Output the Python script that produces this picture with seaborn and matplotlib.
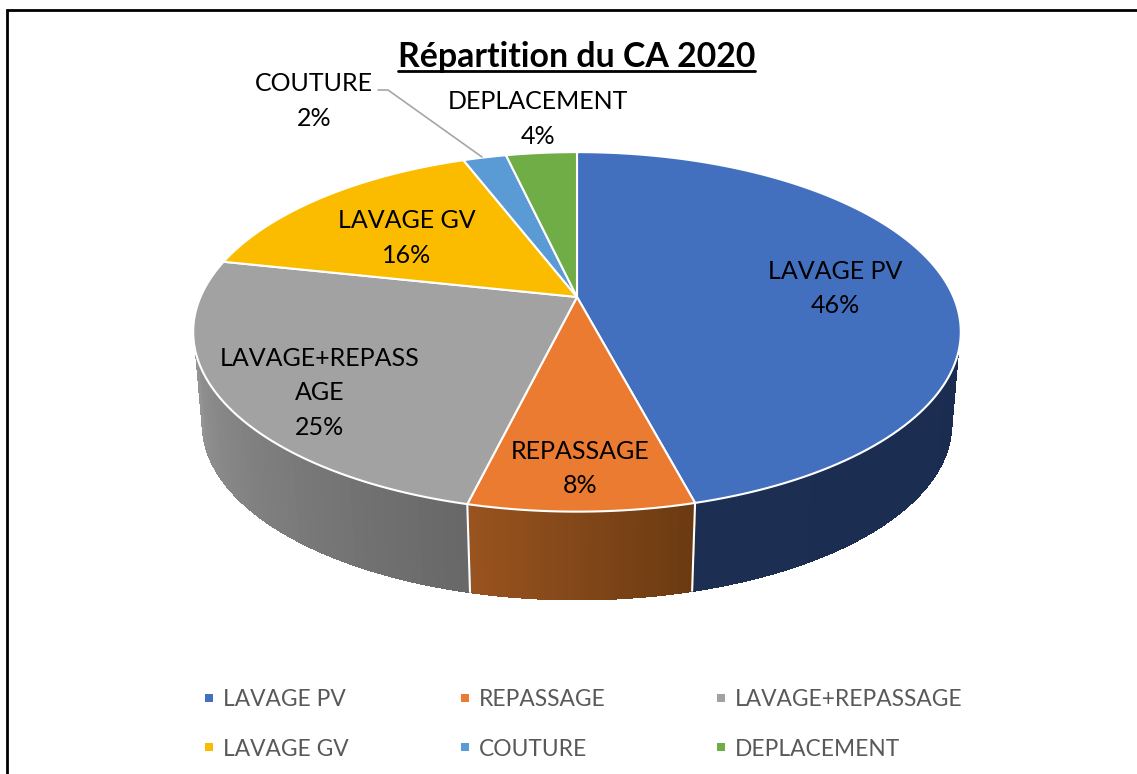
# Bibliotecas
import numpy as np
import matplotlib
matplotlib.use("Agg")
import matplotlib.pyplot as plt
import matplotlib.colors as mcolors
import seaborn as sns

sns.set_theme(style="white")
plt.rcParams["font.family"] = ["Lato", "DejaVu Sans"]

# Donnees
categories = ["LAVAGE PV", "REPASSAGE", "LAVAGE+REPASSAGE", "LAVAGE GV", "COUTURE", "DEPLACEMENT"]
valeurs = [45.9, 7.9, 24.6, 15.8, 2.2, 3.6]
titre = "Répartition du CA 2020"

# Couleurs
couleurs = ["#4270BF", "#EB7B30", "#A2A2A2", "#FBBC00", "#5B9BD5", "#70AD47"]
palette = sns.color_palette(couleurs)
flanc_gauche = ["#1C2F53", "#98531F", "#949494", "#7F5F00", "#2E75B6", "#385723"]
flanc_droit = ["#1A2C4F", "#6B3A12", "#686868", "#7F5F00", "#2E75B6", "#385723"]

# Geometrie du camembert en perspective (pixels de l'image)
CX, CY = 577, 297
CY_BAS = 390
B, A, C = 376.5, 173.0, 0.194
ECHELLE_BAS = 0.975
# limites visibles du flanc, en haut et en bas
HAUT_MIN, HAUT_MAX = np.radians(108.4), np.radians(251.6)
BAS_MIN, BAS_MAX = np.radians(101.2), np.radians(258.8)


def projete(theta, bas=False):
    u, v = np.sin(theta), np.cos(theta)
    d = 1 + C * v
    x, y = B * u / d, A * v / d
    if bas:
        return CX + ECHELLE_BAS * x, CY_BAS - ECHELLE_BAS * y
    return CX + x, CY - y


fig = plt.figure(figsize=(11.37, 7.74), dpi=100)
ax = fig.add_axes([0, 0, 1, 1])
ax.set_xlim(0, 1137)
ax.set_ylim(774, 0)
ax.axis("off")

# Cadre
ax.plot([7, 7, 1137], [774, 10, 10], color="black", lw=2, solid_joinstyle="miter")

bornes = np.concatenate([[0], np.cumsum(valeurs)]) / np.sum(valeurs) * 2 * np.pi

# Flancs avec degrade
for i in range(len(valeurs)):
    debut, fin = max(bornes[i], BAS_MIN), min(bornes[i + 1], BAS_MAX)
    if fin <= debut:
        continue
    t = np.linspace(debut, fin, 40)
    c1 = np.array(mcolors.to_rgb(flanc_gauche[i]))
    c2 = np.array(mcolors.to_rgb(flanc_droit[i]))
    for j in range(len(t) - 1):
        xh, yh = projete(np.clip(t[[j, j + 1]], HAUT_MIN, HAUT_MAX))
        xb, yb = projete(t[[j + 1, j]], bas=True)
        k = j / (len(t) - 2)
        c = c2 * (1 - k) + c1 * k
        ax.fill(np.r_[xh, xb], np.r_[yh, yb], color=c, lw=1.0, antialiased=False)

# Separations blanches sur le flanc
for b in bornes[1:3]:
    xh, yh = projete(b)
    xb, yb = projete(b, bas=True)
    ax.plot([xh, xb], [yh, yb], color="white", lw=1.5)

# Dessus
for i in range(len(valeurs)):
    t = np.linspace(bornes[i], bornes[i + 1], 120)
    x, y = projete(t)
    ax.fill(np.r_[CX, x], np.r_[CY, y], facecolor=palette[i], edgecolor="white", lw=1.5,
            joinstyle="round")

# Etiquettes
etiquettes = ["LAVAGE PV", "REPASSAGE", "LAVAGE+REPASS\nAGE", "LAVAGE GV", "COUTURE", "DEPLACEMENT"]
pos_etiquettes = [(835, 288.5), (580, 468.5), (320, 393), (407, 238), (314, 101), (538, 119)]
for nom, val, (x, y) in zip(etiquettes, valeurs, pos_etiquettes):
    ax.text(x, y, f"{nom}\n{round(val)}%", ha="center", va="center", ma="center",
            fontsize=18, color="black", linespacing=1.59)

# Trait de rappel COUTURE
ax.plot([378, 388, 482], [90, 90, 157], color="#A6A6A6", lw=1.2)

# Titre souligne
ax.text(576.5, 57, titre, ha="center", va="center", fontsize=24.4, fontweight="bold", color="black")
ax.plot([398, 755], [70.5, 70.5], color="black", lw=2)

# Legende
pos_x = [204, 460, 716]
pos_y = [698, 747]
for i, nom in enumerate(categories):
    x, y = pos_x[i % 3], pos_y[i // 3]
    ax.scatter([x + 5], [y], marker="s", s=36, color=palette[i], linewidths=0)
    ax.text(x + 19, y + 2, nom, ha="left", va="center", fontsize=16.4, color="#595959")

fig.savefig("out.png", dpi=100)
